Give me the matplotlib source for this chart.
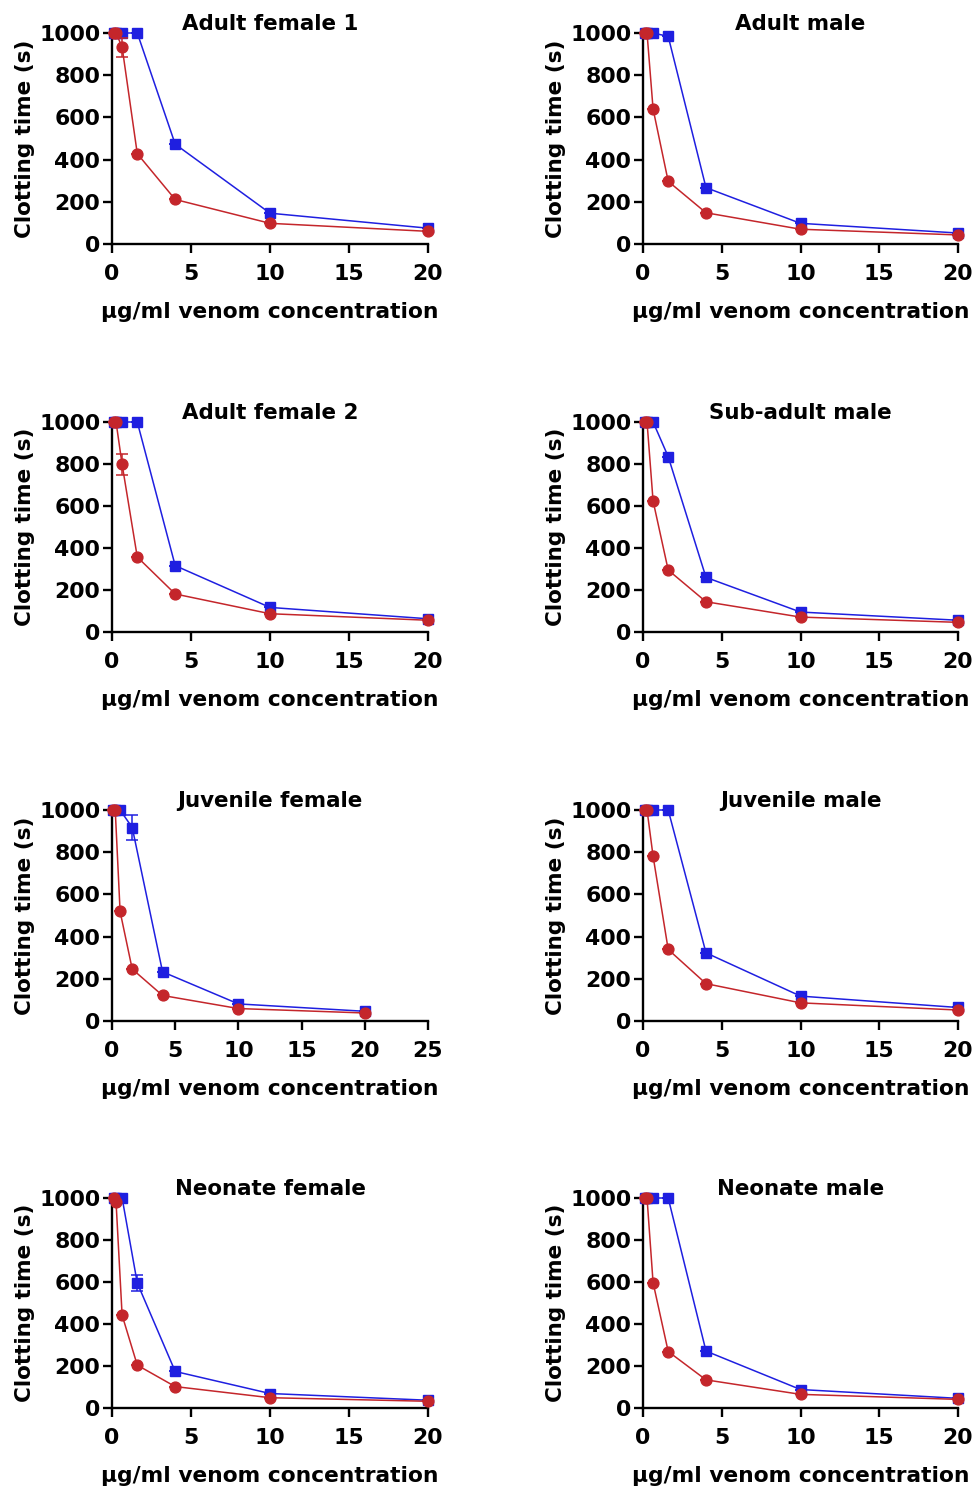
import matplotlib
matplotlib.use("Agg")
import matplotlib.pyplot as plt

plt.rcParams['font.family'] = ['DejaVu Sans']
plt.rcParams['font.weight'] = 'bold'

# Venom concentrations (µg/ml)
conc = [0.1, 0.256, 0.64, 1.6, 4, 10, 20]

titles = ["Adult female 1", "Adult male", "Adult female 2", "Sub-adult male",
          "Juvenile female", "Juvenile male", "Neonate female", "Neonate male"]

# red circle series
af1_red = [1000, 1000, 933, 428, 211, 98, 60]
am_red = [1000, 1000, 640, 297, 148, 70, 43]
af2_red = [1000, 1000, 798, 357, 181, 87, 56]
sam_red = [1000, 1000, 624, 295, 144, 71, 46]
jf_red = [1000, 1000, 519, 246, 121, 59, 38]
jm_red = [1000, 1000, 781, 339, 177, 86, 52]
nf_red = [1000, 981, 442, 204, 102, 49, 32]
nm_red = [1000, 1000, 597, 269, 134, 65, 41]

# blue square series
af1_blue = [1000, 1000, 1000, 1000, 473, 146, 75]
am_blue = [1000, 1000, 1000, 984, 267, 98, 52]
af2_blue = [1000, 1000, 1000, 1000, 316, 117, 63]
sam_blue = [1000, 1000, 1000, 835, 260, 95, 56]
jf_blue = [1000, 1000, 1000, 917, 233, 81, 46]
jm_blue = [1000, 1000, 1000, 1000, 323, 118, 64]
nf_blue = [1000, 1000, 1000, 595, 174, 69, 37]
nm_blue = [1000, 1000, 1000, 1000, 271, 88, 46]

# error bars (SD)
af1_red_err = [0, 0, 45, 0, 0, 0, 0]
af2_red_err = [0, 0, 48, 0, 0, 0, 0]
jf_blue_err = [0, 0, 0, 57, 0, 0, 0]
nf_blue_err = [0, 0, 0, 37, 0, 0, 0]
zero_err = [0, 0, 0, 0, 0, 0, 0]

red_series = [af1_red, am_red, af2_red, sam_red, jf_red, jm_red, nf_red, nm_red]
blue_series = [af1_blue, am_blue, af2_blue, sam_blue, jf_blue, jm_blue, nf_blue, nm_blue]
red_errs = [af1_red_err, zero_err, af2_red_err, zero_err, zero_err, zero_err, zero_err, zero_err]
blue_errs = [zero_err, zero_err, zero_err, zero_err, jf_blue_err, zero_err, nf_blue_err, zero_err]
xmax = [20, 20, 20, 20, 25, 20, 20, 20]

RED = '#C4262B'
BLUE = '#1F1FE0'

W, H = 975, 1489
fig = plt.figure(figsize=(W / 100, H / 100), dpi=100)

col_left = [112, 643]
col_width = [316, 315]
row_top = [33, 422, 810, 1198]
row_bottom = [244, 632, 1021, 1408]

for i in range(8):
    r, c = divmod(i, 2)
    left = col_left[c] / W
    bottom = 1 - row_bottom[r] / H
    width = col_width[c] / W
    height = (row_bottom[r] - row_top[r]) / H
    ax = fig.add_axes([left, bottom, width, height])

    ax.errorbar(conc, blue_series[i], yerr=blue_errs[i], color=BLUE, marker='s',
                markersize=7.5, linewidth=1.1, capsize=4, elinewidth=1.1,
                capthick=1.1, clip_on=False, zorder=3)
    ax.errorbar(conc, red_series[i], yerr=red_errs[i], color=RED, marker='o',
                markersize=7.8, linewidth=1.1, capsize=4, elinewidth=1.1,
                capthick=1.1, clip_on=False, zorder=4)

    ax.set_xlim(0, xmax[i])
    ax.set_ylim(0, 1000)
    ax.set_xticks(list(range(0, xmax[i] + 1, 5)))
    ax.set_yticks([0, 200, 400, 600, 800, 1000])

    for s in ['top', 'right']:
        ax.spines[s].set_visible(False)
    for s in ['left', 'bottom']:
        ax.spines[s].set_linewidth(1.7)
    ax.tick_params(axis='both', direction='out', length=6.5, width=1.7,
                   labelsize=15.8)
    ax.tick_params(axis='x', pad=8)
    ax.tick_params(axis='y', pad=2)
    for lab in ax.get_xticklabels() + ax.get_yticklabels():
        lab.set_fontweight('bold')

    ax.set_ylabel("Clotting time (s)", fontsize=15.5, fontweight='bold', labelpad=3)
    ax.set_xlabel("µg/ml venom concentration", fontsize=15.7, fontweight='bold', labelpad=13)
    ax.text(0.5, 1.042, titles[i], transform=ax.transAxes, ha='center', va='center',
            fontsize=15.4, fontweight='bold')

fig.savefig("out.png", dpi=100)
